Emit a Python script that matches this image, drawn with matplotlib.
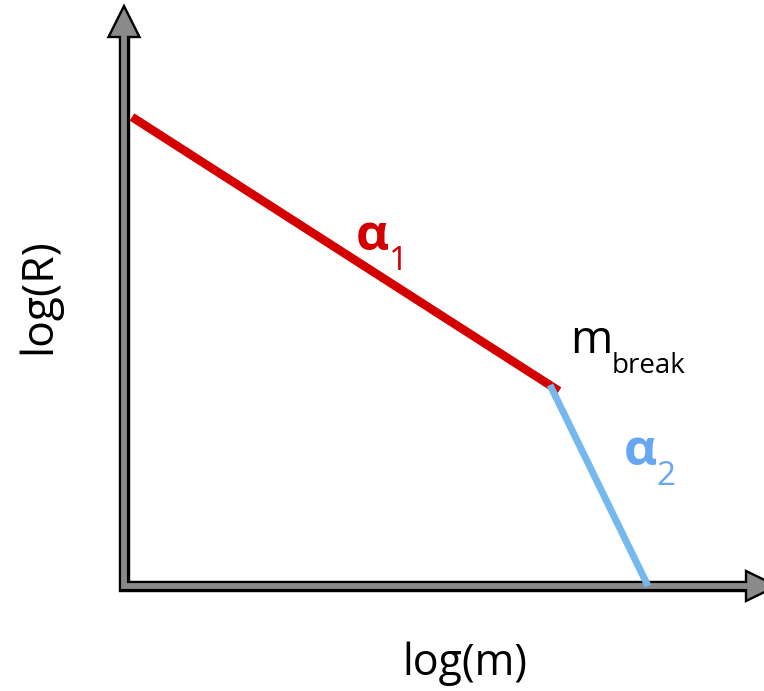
import matplotlib
matplotlib.use("Agg")
import matplotlib.pyplot as plt
from matplotlib.patches import Polygon

# broken power law: two slopes meeting at m_break (log units)
seg1_logm = [0.16, 8.70]
seg1_logR = [9.38, 3.90]
seg2_logm = [8.52, 10.48]
seg2_logR = [4.02, 0.0]

RED = "#d40000"
BLUE = "#74b8ee"
BLUE_TXT = "#67a7f2"
GREY = "#8a8a8a"

plt.rcParams["font.family"] = ["Open Sans", "DejaVu Sans"]

fig = plt.figure(figsize=(7.64, 6.91), dpi=100)
ax = fig.add_axes([0, 0, 1, 1])
# 1 unit = 50 px in both directions
ax.set_xlim(-2.48, 12.80)
ax.set_ylim(-2.10, 11.72)
ax.axis("off")

# axes drawn as outlined grey arrows
x_end, y_end = 12.6, 11.2
ax.plot([0, 0, x_end], [y_end, 0, 0], color="black", lw=8.2,
        solid_joinstyle="miter", solid_capstyle="butt", zorder=2)
head_v = Polygon([[-0.31, 10.98], [0.31, 10.98], [0, 11.60]], closed=True,
                 facecolor=GREY, edgecolor="black", lw=1.7, zorder=3)
head_h = Polygon([[12.44, -0.30], [12.44, 0.30], [13.06, 0]], closed=True,
                 facecolor=GREY, edgecolor="black", lw=1.7, zorder=3)
ax.add_patch(head_v)
ax.add_patch(head_h)
ax.plot([0, 0, x_end], [y_end, 0, 0], color=GREY, lw=4.2,
        solid_joinstyle="miter", solid_capstyle="butt", zorder=4)

# the two power-law segments
ax.plot(seg1_logm, seg1_logR, color=RED, lw=6.2, solid_capstyle="butt", zorder=5)
ax.plot(seg2_logm, seg2_logR, color=BLUE, lw=5.0, solid_capstyle="butt", zorder=6)

# slope labels
ax.text(4.64, 6.72, "α", color=RED, fontsize=37, fontweight="bold",
        ha="left", va="baseline")
ax.text(5.30, 6.32, "1", color=RED, fontsize=24, ha="left", va="baseline")
ax.text(10.00, 2.42, "α", color=BLUE_TXT, fontsize=37, fontweight="bold",
        ha="left", va="baseline")
ax.text(10.64, 2.02, "2", color=BLUE_TXT, fontsize=24, ha="left", va="baseline")

# break point label
ax.text(8.92, 4.66, "m", color="black", fontsize=33, ha="left", va="baseline")
ax.text(9.76, 4.26, "break", color="black", fontsize=20, ha="left", va="baseline")

# axis titles
ax.text(6.82, -1.78, "log(m)", color="black", fontsize=31, ha="center", va="baseline")
ax.text(-1.70, 5.80, "log(R)", color="black", fontsize=32, rotation=90,
        ha="center", va="center")

fig.savefig("out.png", dpi=100)
